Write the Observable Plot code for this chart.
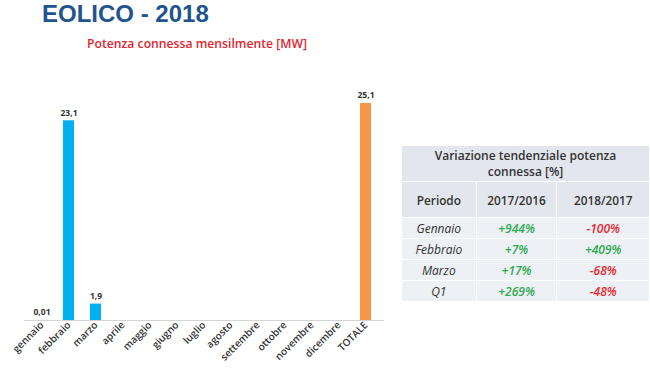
<!DOCTYPE html>
<html><head><meta charset="utf-8">
<script src="https://cdn.jsdelivr.net/npm/d3@7"></script>
<script src="https://cdn.jsdelivr.net/npm/@observablehq/plot@0.6"></script>
<style>
html,body{margin:0;padding:0;background:#fff;}
#wrap{position:relative;width:650px;height:368px;overflow:hidden;font-family:"Open Sans",sans-serif;}
#title{position:absolute;left:42px;top:0px;font-family:"Liberation Sans",Arial,sans-serif;font-size:24px;line-height:normal;font-weight:700;color:#1F5490;}
#sub{position:absolute;left:87px;top:35px;font-size:12.2px;font-weight:600;color:#E2262F;}
#chart{position:absolute;left:0;top:60px;}
#tbl{position:absolute;left:401px;top:145px;border-collapse:collapse;font-family:"Open Sans",sans-serif;}
#tbl td{text-align:center;padding:0;border:1.5px solid #fff;color:#333;}
#tbl tr.h td{background:#e3e7ed;font-weight:600;font-size:11.8px;}
#tbl tr.d td{background:#edf0f4;font-style:italic;font-size:12px;}
.pos{color:#2EAA4F !important;font-weight:600;}
.neg{color:#E8262F !important;font-weight:600;}
</style></head>
<body><div id="wrap">
<div id="title">EOLICO - 2018</div>
<div id="sub">Potenza connessa mensilmente [MW]</div>
<div id="chart"></div>
<table id="tbl"></table>
</div>
<script>
const months = ["gennaio","febbraio","marzo","aprile","maggio","giugno","luglio","agosto","settembre","ottobre","novembre","dicembre","TOTALE"];
const values = [0.01, 23.1, 1.9, null, null, null, null, null, null, null, null, null, 25.1];
const periods = ["Gennaio","Febbraio","Marzo","Q1"];
const var1716 = ["+944%","+7%","+17%","+269%"];
const var1817 = ["-100%","+409%","-68%","-48%"];
const tableTitle = "Variazione tendenziale potenza connessa [%]";
const colHeads = ["Periodo","2017/2016","2018/2017"];

const data = months.map((m,i)=>({m, v: values[i], tot: m==="TOTALE"}));
const shown = data.filter(d=>d.v!=null);

const plot = Plot.plot({
  width: 400, height: 308,
  marginLeft: 24, marginRight: 16, marginTop: 43, marginBottom: 48,
  style: {fontFamily: "'Open Sans',sans-serif", fontSize: "8px", color: "#333", background: "transparent"},
  x: {domain: months, paddingInner: 0.58, paddingOuter: 0.315, label: null, tickSize: 0, tickRotate: -45, tickPadding: 3},
  y: {domain: [0, 25.1], axis: null},
  marks: [
    Plot.barY(shown, {x: "m", y: "v", fill: d => d.tot ? "#F79646" : "#00B0F0"}),
    Plot.ruleY([0], {stroke: "#d4d4d4", strokeWidth: 1.2}),
    Plot.text(shown, {x: "m", y: "v", text: d => String(d.v).replace(".", ","), dy: -8, fontSize: 8.5, fontWeight: 700, fill: "#333"})
  ]
});
plot.querySelectorAll('[aria-label="x-axis tick label"] text').forEach(t=>{t.setAttribute("font-weight","600");t.setAttribute("font-size","10");});
document.getElementById("chart").appendChild(plot);

const tbl = document.getElementById("tbl");
let html = `<tr class="h"><td colspan="3" style="height:35px;font-size:12px;line-height:16px;padding:0 18px;">${tableTitle}</td></tr>`;
html += `<tr class="h"><td style="width:74px;height:35px;">${colHeads[0]}</td><td style="width:80px;">${colHeads[1]}</td><td style="width:92px;">${colHeads[2]}</td></tr>`;
periods.forEach((p,i)=>{
  const c1 = var1716[i].startsWith("+")?"pos":"neg";
  const c2 = var1817[i].startsWith("+")?"pos":"neg";
  html += `<tr class="d"><td style="height:20px;">${p}</td><td class="${c1}">${var1716[i]}</td><td class="${c2}">${var1817[i]}</td></tr>`;
});
tbl.innerHTML = html;
</script>
</body></html>
